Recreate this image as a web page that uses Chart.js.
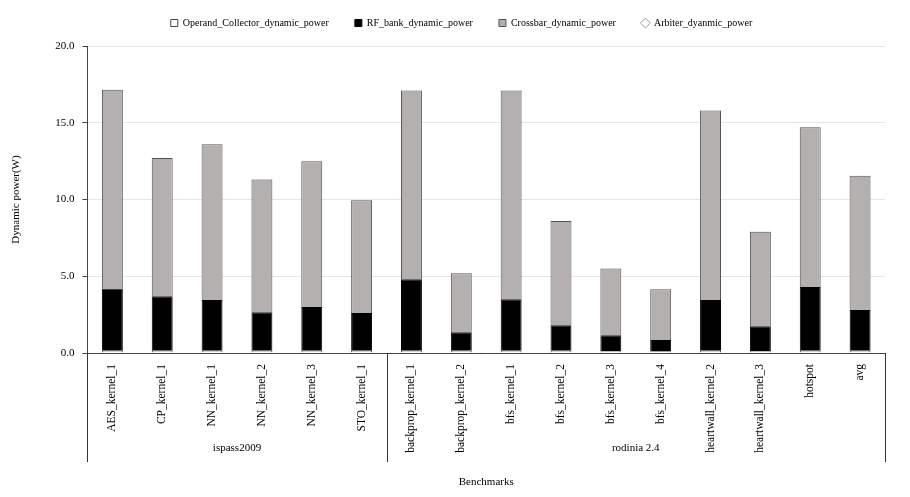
<!DOCTYPE html>
<html>
<head>
<meta charset="utf-8">
<script src="https://cdn.jsdelivr.net/npm/chart.js@4"></script>
<style>
  html, body { margin: 0; padding: 0; background: #fff; }
  #wrap { width: 910px; height: 497px; }
</style>
</head>
<body>
<div id="wrap"><canvas id="powerChart"></canvas></div>
<script>
// Benchmarks and their suite groups
const benchmarks = [
  "AES_kernel_1", "CP_kernel_1", "NN_kernel_1", "NN_kernel_2", "NN_kernel_3", "STO_kernel_1",
  "backprop_kernel_1", "backprop_kernel_2", "bfs_kernel_1", "bfs_kernel_2", "bfs_kernel_3",
  "bfs_kernel_4", "heartwall_kernel_2", "heartwall_kernel_3", "hotspot", "avg"
];
const groups = ["ispass2009", "rodinia 2.4"];
const groupSizes = [6, 10];

// Dynamic power components (W)
const operandCollector = [0.15, 0.15, 0.15, 0.15, 0.15, 0.15, 0.15, 0.15, 0.15, 0.15, 0.12, 0.1, 0.15, 0.12, 0.15, 0.15];
const rfBank = [4.05, 3.55, 3.3, 2.5, 2.85, 2.45, 4.65, 1.2, 3.35, 1.65, 1.03, 0.75, 3.3, 1.63, 4.15, 2.65];
const crossbar = [12.95, 9.0, 10.15, 8.65, 9.5, 7.35, 12.3, 3.85, 13.6, 6.8, 4.35, 3.3, 12.35, 6.15, 10.4, 8.75];
const arbiter = [0.02, 0.02, 0.02, 0.02, 0.02, 0.02, 0.02, 0.01, 0.02, 0.01, 0.01, 0.01, 0.02, 0.01, 0.02, 0.02];

const yTicks = [0, 5, 10, 15, 20];

const serif = "'Liberation Serif', 'Times New Roman', serif";

// nudge the legend a bit right and up, like the original
const legendShift = {
  id: "legendShift",
  afterLayout(chart) {
    const lg = chart.legend;
    if (!lg) return;
    lg.left += 14;
    lg.right += 14;
    lg.top -= 8;
    lg.bottom -= 8;
  },
};

// draws the suite group boxes under the category labels
const groupPlugin = {
  id: "groupPlugin",
  afterDraw(chart) {
    const ctx = chart.ctx;
    const x = chart.scales.x;
    const area = chart.chartArea;
    const lineBottom = area.bottom + 109;
    const step = (area.right - area.left) / benchmarks.length;
    ctx.save();
    ctx.strokeStyle = "#333";
    ctx.lineWidth = 1;
    ctx.fillStyle = "#000";
    ctx.font = "11px " + serif;
    ctx.textAlign = "center";
    ctx.textBaseline = "middle";
    let start = 0;
    const edges = [area.left];
    groups.forEach((g, i) => {
      const end = start + groupSizes[i];
      const xl = x.getPixelForValue(start) - step / 2;
      const xr = x.getPixelForValue(end - 1) + step / 2;
      edges.push(xr);
      ctx.fillText(g, (xl + xr) / 2, area.bottom + 95);
      start = end;
    });
    edges.forEach((ex) => {
      const px = Math.round(ex) + 0.5;
      ctx.beginPath();
      ctx.moveTo(px, area.bottom);
      ctx.lineTo(px, lineBottom);
      ctx.stroke();
    });
    ctx.restore();
  },
};

const ctx = document.getElementById("powerChart").getContext("2d");
const chart = new Chart(ctx, {
  type: "bar",
  data: {
    labels: benchmarks,
    datasets: [
      {
        label: "Operand_Collector_dynamic_power",
        data: operandCollector,
        backgroundColor: "#ffffff",
        borderColor: "#444",
        borderWidth: 1,
        pointStyle: "rect",
      },
      {
        label: "RF_bank_dynamic_power",
        data: rfBank,
        backgroundColor: "#000000",
        borderColor: "#000000",
        borderWidth: 1,
        pointStyle: "rect",
      },
      {
        label: "Crossbar_dynamic_power",
        data: crossbar,
        backgroundColor: "#b4b0b0",
        borderColor: "#555",
        borderWidth: 1,
        pointStyle: "rect",
      },
      {
        label: "Arbiter_dyanmic_power",
        data: arbiter,
        backgroundColor: "#ffffff",
        borderColor: "#999",
        borderWidth: 1,
        pointStyle: "rectRot",
      },
    ],
  },
  options: {
    responsive: true,
    maintainAspectRatio: false,
    animation: false,
    layout: { padding: { left: 10, right: 25, top: 0, bottom: 0 } },
    datasets: {
      bar: { barPercentage: 0.42, categoryPercentage: 1.0 },
    },
    scales: {
      x: {
        stacked: true,
        grid: { display: false },
        border: { color: "#444" },
        ticks: {
          color: "#000",
          font: { family: serif, size: 11.5 },
          minRotation: 90,
          maxRotation: 90,
          autoSkip: false,
        },
        title: {
          display: true,
          text: "Benchmarks",
          color: "#000",
          font: { family: serif, size: 11 },
          padding: { top: 0, bottom: 8 },
        },
        afterFit(scale) {
          scale.height = 144;
        },
      },
      y: {
        stacked: true,
        min: 0,
        max: 20,
        afterBuildTicks(scale) {
          scale.ticks = yTicks.map((v) => ({ value: v }));
        },
        grid: { color: "#e6e6e6", tickColor: "#444", tickLength: 5 },
        border: { color: "#444" },
        ticks: {
          color: "#000",
          font: { family: serif, size: 11 },
          padding: 8,
          callback: function (value) {
            return Number(value).toFixed(1);
          },
        },
        title: {
          display: true,
          text: "Dynamic power(W)",
          color: "#000",
          font: { family: serif, size: 11 },
          padding: { top: 0, bottom: 24 },
        },
      },
    },
    plugins: {
      legend: {
        position: "top",
        labels: {
          color: "#000",
          font: { family: serif, size: 10 },
          usePointStyle: true,
          boxWidth: 7,
          boxHeight: 7,
          padding: 26,
        },
      },
      tooltip: { enabled: false },
    },
  },
  plugins: [legendShift, groupPlugin],
});
</script>
</body>
</html>
